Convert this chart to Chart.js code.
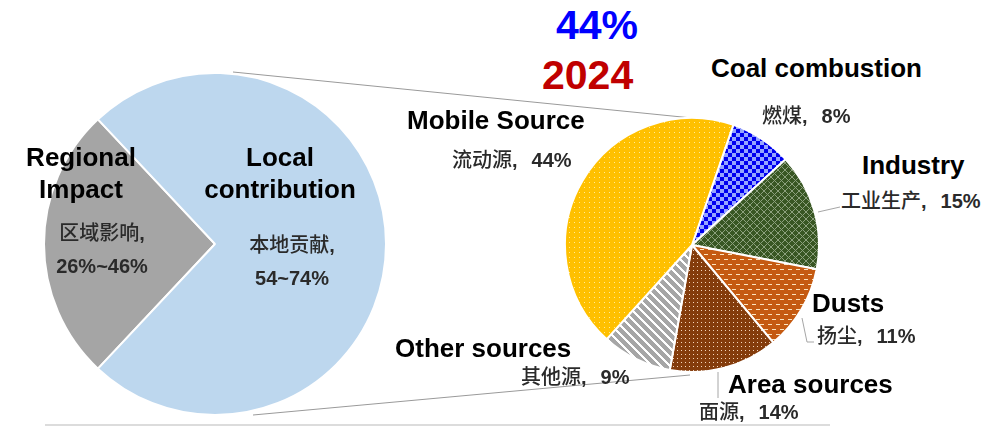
<!DOCTYPE html>
<html><head><meta charset="utf-8">
<script src="https://cdn.jsdelivr.net/npm/chart.js@4"></script>
<style>
html,body{margin:0;padding:0;background:#fff;width:1005px;height:426px;overflow:hidden;}
#wrap{position:relative;width:1005px;height:426px;}
canvas{position:absolute;}
svg{position:absolute;left:0;top:0;}
.t{position:absolute;white-space:nowrap;}
.en{font-family:"Liberation Sans",Arial,sans-serif;font-weight:bold;font-size:26px;line-height:26px;color:#000;}
.cn{font-family:"Noto Sans CJK SC",sans-serif;font-weight:500;font-size:20px;line-height:20px;color:#2a2a2a;}
.cn b{font-family:"Liberation Sans",Arial,sans-serif;font-weight:bold;}
.cn b.n{margin-left:14px;}
.ctr{transform:translateX(-50%);text-align:center;}
.big{font-family:"Liberation Sans",Arial,sans-serif;font-weight:bold;font-size:41px;line-height:41px;}
</style>
</head>
<body>
<div id="wrap">
  <svg width="1005" height="426">
    <line x1="233" y1="72" x2="692" y2="118" stroke="#9a9a9a" stroke-width="1"/>
    <line x1="253" y1="415" x2="690" y2="375" stroke="#9a9a9a" stroke-width="1"/>
    <line x1="45" y1="425" x2="830" y2="425" stroke="#d0d0d0" stroke-width="1.5"/>
    <polyline points="818,212 840,207" fill="none" stroke="#a6a6a6" stroke-width="1"/>
    <polyline points="802,318 807,342 814,342" fill="none" stroke="#a6a6a6" stroke-width="1"/>
    <polyline points="718,372 718,398" fill="none" stroke="#a6a6a6" stroke-width="1"/>
  </svg>
  <canvas id="left" width="344" height="344" style="left:43px;top:72px;width:344px;height:344px"></canvas>
  <canvas id="right" width="256" height="256" style="left:564px;top:117px;width:256px;height:256px"></canvas>
</div>
<script>
// ---- data ----
const leftCategoriesEn = ['Regional\nImpact', 'Local\ncontribution'];
const leftCategoriesCn = ['区域影响', '本地贡献'];
const leftRangeLabels = ['26%~46%', '54~74%'];
const leftValues = [26, 74];

const rightCategoriesEn = ['Coal combustion', 'Industry', 'Dusts', 'Area sources', 'Other sources', 'Mobile Source'];
const rightCategoriesCn = ['燃煤', '工业生产', '扬尘', '面源', '其他源', '流动源'];
const rightValues = [8, 15, 11, 14, 9, 44];

const headlineShare = '44%';
const headlineYear = '2024';

// ---- patterns ----
function makePattern(w, h, fn) {
  const c = document.createElement('canvas');
  c.width = w; c.height = h;
  const g = c.getContext('2d');
  const img = g.createImageData(w, h);
  for (let y = 0; y < h; y++) for (let x = 0; x < w; x++) {
    const col = fn(x, y);
    const i = (y * w + x) * 4;
    img.data[i] = col[0]; img.data[i+1] = col[1]; img.data[i+2] = col[2]; img.data[i+3] = 255;
  }
  g.putImageData(img, 0, 0);
  return g.createPattern(c, 'repeat');
}
const mod = (a, n) => ((a % n) + n) % n;
const yellowP = makePattern(5, 5, (x, y) => (x === 0 && y === 0) ? [255, 236, 150] : [255, 192, 0]);
const blueP = makePattern(8, 8, (x, y) => (((x >> 2) + (y >> 2)) % 2 === 0) ? [0, 0, 240] : [150, 165, 255]);
const greenP = makePattern(7, 7, (x, y) => (mod(x + y, 7) === 0 || mod(x - y, 7) === 0) ? [140, 160, 125] : [56, 86, 35]);
const orangeP = makePattern(8, 10, (x, y) => ((y === 2 && x < 4) || (y === 7 && x >= 4)) ? [252, 228, 190] : [197, 90, 17]);
const brownP = makePattern(4, 4, (x, y) => (x === 1 && y === 1) ? [245, 215, 190] : [132, 60, 12]);
const grayP = makePattern(9, 9, (x, y) => (mod(x - y, 9) < 3) ? [255, 255, 255] : [166, 166, 166]);

const common = {
  responsive: false, animation: false, events: [],
  layout: { padding: 0 },
  plugins: { legend: { display: false }, tooltip: { enabled: false } }
};

const leftSum = leftValues.reduce((a, b) => a + b, 0);
new Chart(document.getElementById('left'), {
  type: 'pie',
  data: { labels: leftCategoriesCn, datasets: [{ data: leftValues, backgroundColor: ['#A5A5A5', '#BDD7EE'], borderColor: '#ffffff', borderWidth: 2 }] },
  options: Object.assign({}, common, { rotation: 270 - (leftValues[0] / leftSum) * 180 })
});

new Chart(document.getElementById('right'), {
  type: 'pie',
  data: { labels: rightCategoriesCn, datasets: [{ data: rightValues, backgroundColor: [blueP, greenP, orangeP, brownP, grayP, yellowP], borderColor: '#ffffff', borderWidth: 2 }] },
  options: Object.assign({}, common, { rotation: 19 })
});

// ---- text ----
const wrap = document.getElementById('wrap');
function addText(html, cls, left, top, extra) {
  const d = document.createElement('div');
  d.className = 't ' + cls;
  d.innerHTML = html;
  d.style.left = left + 'px';
  d.style.top = top + 'px';
  if (extra) Object.assign(d.style, extra);
  wrap.appendChild(d);
  return d;
}
// headline
addText(headlineShare, 'big', 556, 5, { color: '#0000FF' });
addText(headlineYear, 'big', 542, 55, { color: '#C00000' });

// left pie labels
const leftEnPos = [[81, 141], [280, 141]];
const leftCnPos = [[102, 216], [292, 228]];
leftCategoriesEn.forEach((s, i) => {
  addText(s.replace('\n', '<br>'), 'en ctr', leftEnPos[i][0], leftEnPos[i][1], { lineHeight: '32px' });
  addText(leftCategoriesCn[i] + '<b>,</b><br><b>' + leftRangeLabels[i] + '</b>', 'cn ctr', leftCnPos[i][0], leftCnPos[i][1], { lineHeight: '32px' });
});

// right pie labels
const rightEnPos = [[711, 55], [862, 152], [812, 290], [728, 371], [395, 335], [407, 107]];
const rightCnPos = [[762, 105], [841, 190], [817, 325], [699, 401], [521, 366], [452, 149]];
rightCategoriesEn.forEach((s, i) => {
  addText(s, 'en', rightEnPos[i][0], rightEnPos[i][1]);
  addText(rightCategoriesCn[i] + '<b>,</b><b class="n">' + rightValues[i] + '%</b>', 'cn', rightCnPos[i][0], rightCnPos[i][1]);
});
</script>
</body></html>
